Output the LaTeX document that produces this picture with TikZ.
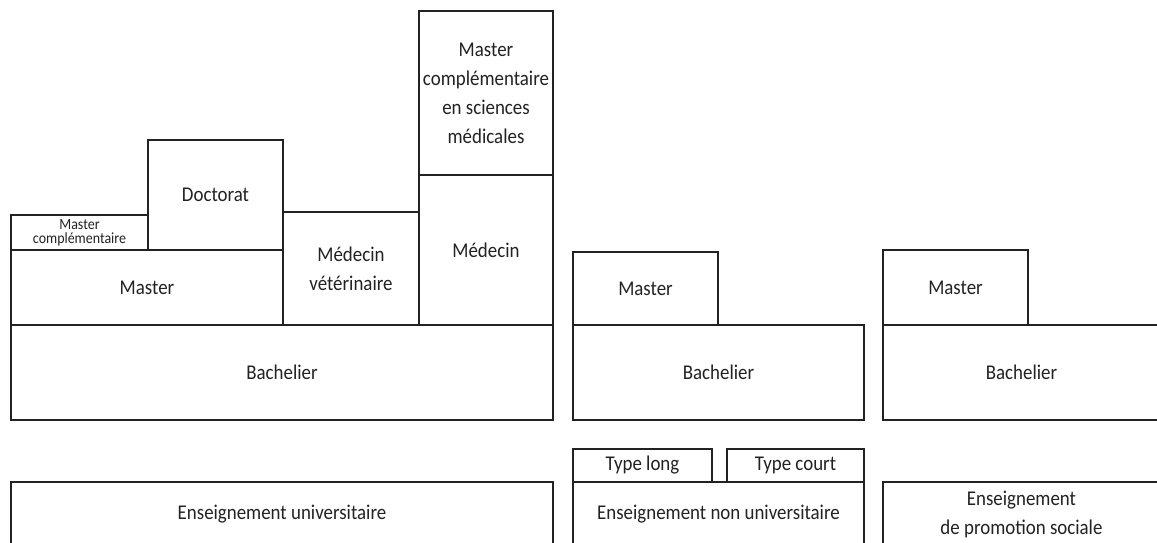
\documentclass[tikz,border=0pt]{standalone}
\usepackage{fontspec}
\setmainfont{Carlito}[FakeStretch=0.9]
\usepackage{tikz}

\definecolor{ink}{HTML}{222222}

\begin{document}
\begin{tikzpicture}[x=1pt, y=-1pt]
          \clip (0,0) rectangle (1157,543);
          \begin{scope}[every node/.style={rectangle, draw=ink, text=ink, line width=1.6pt,
                  inner sep=0pt, outer sep=0pt, align=center,
                  font=\fontsize{21}{29}\selectfont}]
          % universitaire
          \node[minimum width=134, minimum height=164] (mcs) at (486,93) {Master\\complémentaire\\en sciences\\médicales};
          \node[minimum width=134, minimum height=150] (med) at (486,250) {Médecin};
          \node[minimum width=136, minimum height=113] (vet) at (351,268.5) {Médecin\\vétérinaire};
          \node[minimum width=135, minimum height=110] (doc) at (215.5,195) {Doctorat};
          \node[minimum width=137, minimum height=35, font=\fontsize{15.5}{14}\selectfont] (mc) at (79.5,232.5) {Master\\complémentaire};
          \node[minimum width=272, minimum height=75] (mas) at (147,287.5) {Master};
          \node[minimum width=542, minimum height=95] (bac) at (282,372.5) {Bachelier};
          \node[minimum width=542, minimum height=64] (univ) at (282,514) {Enseignement universitaire};
          % non universitaire
          \node[minimum width=145, minimum height=73] (mas2) at (645.5,288.5) {Master};
          \node[minimum width=291, minimum height=95] (bac2) at (718.5,372.5) {Bachelier};
          \node[minimum width=139, minimum height=33] (tl) at (642.5,465.5) {Type long};
          \node[minimum width=137, minimum height=33] (tc) at (795.5,465.5) {Type court};
          \node[minimum width=291, minimum height=64] (nonu) at (718.5,514) {Enseignement non universitaire};
          % promotion sociale
          \node[minimum width=145, minimum height=75] (mas3) at (955.5,287.5) {Master};
          \node[minimum width=277, minimum height=95] (bac3) at (1021.5,372.5) {Bachelier};
          \node[minimum width=277, minimum height=64] (prom) at (1021.5,514) {Enseignement\\de promotion sociale};
          \end{scope}
          \end{tikzpicture}
\end{document}
